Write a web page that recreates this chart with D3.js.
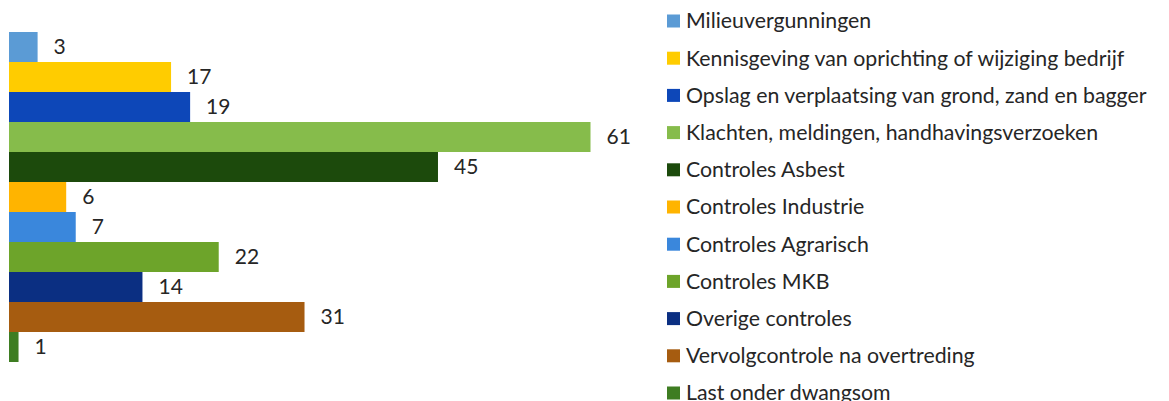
<!DOCTYPE html>
<html>
<head>
<meta charset="utf-8">
<script src="https://cdn.jsdelivr.net/npm/d3@7"></script>
<style>
  body { margin: 0; background: #fff; }
  text { font-family: Lato, "Open Sans", sans-serif; fill: #262626; }
</style>
</head>
<body>
<div class="chart"></div>
<script>
const categories = [
  "Milieuvergunningen",
  "Kennisgeving van oprichting of wijziging bedrijf",
  "Opslag en verplaatsing van grond, zand en bagger",
  "Klachten, meldingen, handhavingsverzoeken",
  "Controles Asbest",
  "Controles Industrie",
  "Controles Agrarisch",
  "Controles MKB",
  "Overige controles",
  "Vervolgcontrole na overtreding",
  "Last onder dwangsom"
];
const values = [3, 17, 19, 61, 45, 6, 7, 22, 14, 31, 1];
const colors = ["#5b9bd5", "#ffcc00", "#0d47b8", "#86bc4b", "#1c4a0c", "#ffb400",
                "#3a87dc", "#6da42a", "#0b2f82", "#a65c10", "#3e7d22"];

const width = 1169, height = 401;

const svg = d3.select(".chart")
    .append("svg")
    .attr("width", width)
    .attr("height", height);

const xScale = d3.scaleLinear()
    .domain([0, 61])
    .range([9, 590.5]);

const yScale = d3.scaleBand()
    .domain(categories)
    .range([32, 362])
    .padding(0);

svg.selectAll("rect.bar")
    .data(values)
    .enter()
    .append("rect")
    .attr("class", "bar")
    .attr("x", xScale(0))
    .attr("y", (d, i) => yScale(categories[i]))
    .attr("width", d => xScale(d) - xScale(0))
    .attr("height", yScale.bandwidth())
    .attr("fill", (d, i) => colors[i]);

svg.selectAll("text.val")
    .data(values)
    .enter()
    .append("text")
    .attr("class", "val")
    .attr("x", d => xScale(d) + 16)
    .attr("y", (d, i) => yScale(categories[i]) + yScale.bandwidth() / 2)
    .attr("dy", "0.35em")
    .style("font-size", "21px")
    .text(d => d);

// legend
const legendY = d3.scalePoint()
    .domain(categories)
    .range([21, 393]);

const legend = svg.append("g")
    .attr("transform", "translate(667, 0)");

const item = legend.selectAll("g")
    .data(categories)
    .enter()
    .append("g")
    .attr("transform", d => `translate(0, ${legendY(d)})`);

item.append("rect")
    .attr("x", 0)
    .attr("y", -6.5)
    .attr("width", 13)
    .attr("height", 13)
    .attr("fill", (d, i) => colors[i]);

item.append("text")
    .attr("x", 19)
    .attr("y", 0)
    .attr("dy", "0.35em")
    .style("font-size", "21.3px")
    .text(d => d);
</script>
</body>
</html>
